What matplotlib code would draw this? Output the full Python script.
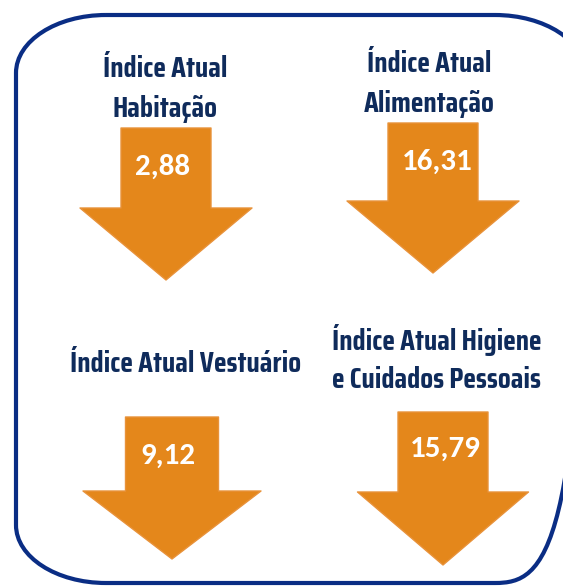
import matplotlib
matplotlib.use("Agg")
matplotlib.rcdefaults()
import matplotlib.pyplot as plt
from matplotlib.patches import PathPatch, Polygon
from matplotlib.path import Path

# chart content
titles = ["Índice Atual\nHabitação", "Índice Atual\nAlimentação",
          "Índice Atual Vestuário", "Índice Atual Higiene\ne Cuidados Pessoais"]
values = [2.88, 16.31, 9.12, 15.79]

# layout in pixels: arrow centre x, shaft top, neck, tip
arrow_cx = [166, 433, 172, 443]
arrow_top = [128, 123, 417, 412]
arrow_neck = [208, 201, 491, 492]
arrow_tip = [280, 273, 559, 565]
shaft_w = [90, 90, 93, 90]
head_w = [172, 172, 178, 171]
title_cx = [165, 429, 186, 437]
title_base = [77, 72, 372, 350]
title_step = [40, 40, 40, 38]
value_cx = [163, 437, 168, 445]
value_base = [175, 170, 464, 457]

ORANGE = "#E4871B"
NAVY = "#0F2B5B"
BORDER = "#0A2D84"
TITLE_FONT = ["Saira Condensed", "DejaVu Sans"]
VALUE_FONT = ["Carlito", "Open Sans"]

W, H = 563, 586
fig = plt.figure(figsize=(W / 100, H / 100), dpi=100)
ax = fig.add_axes([0, 0, 1, 1])
ax.set_xlim(0, W); ax.set_ylim(H, 0)
ax.axis("off")


def round_rect(x0, y0, x1, y1, rx, ry):
    # rectangle with elliptical corners (cubic bezier quarter-ellipses)
    k = 0.5523
    v = [(x0 + rx, y0), (x1 - rx, y0),
         (x1 - rx + k * rx, y0), (x1, y0 + ry - k * ry), (x1, y0 + ry),
         (x1, y1 - ry),
         (x1, y1 - ry + k * ry), (x1 - rx + k * rx, y1), (x1 - rx, y1),
         (x0 + rx, y1),
         (x0 + rx - k * rx, y1), (x0, y1 - ry + k * ry), (x0, y1 - ry),
         (x0, y0 + ry),
         (x0, y0 + ry - k * ry), (x0 + rx - k * rx, y0), (x0 + rx, y0)]
    c = [Path.MOVETO, Path.LINETO] + [Path.CURVE4] * 3 + [Path.LINETO] + [Path.CURVE4] * 3 \
        + [Path.LINETO] + [Path.CURVE4] * 3 + [Path.LINETO] + [Path.CURVE4] * 3
    return Path(v, c)


# left corners use the measured radii; right side runs just past the edge
frame = PathPatch(round_rect(16, 15, 585, 583, 90, 58), fill=False, ec=BORDER, lw=3.0)
frame.set_in_layout(False)
ax.add_patch(frame)

for i in range(len(values)):
    cx, sw, hw = arrow_cx[i], shaft_w[i], head_w[i]
    pts = [(cx - sw / 2, arrow_top[i]), (cx + sw / 2, arrow_top[i]),
           (cx + sw / 2, arrow_neck[i]), (cx + hw / 2, arrow_neck[i]),
           (cx, arrow_tip[i]), (cx - hw / 2, arrow_neck[i]),
           (cx - sw / 2, arrow_neck[i])]
    ax.add_patch(Polygon(pts, closed=True, fc=ORANGE, ec="#E8923A", lw=1.0, joinstyle="round"))

    for k, line in enumerate(titles[i].split("\n")):
        ax.text(title_cx[i], title_base[i] + k * title_step[i], line,
                ha="center", va="baseline", color=NAVY, fontsize=21.3,
                fontweight="bold", family=TITLE_FONT)

    lbl = f"{values[i]:.2f}".replace(".", ",")
    ax.text(value_cx[i], value_base[i], lbl, ha="center", va="baseline",
            color="white", fontsize=22.3, fontweight="bold", family=VALUE_FONT)

fig.savefig("out.png", dpi=100, bbox_inches=None)
